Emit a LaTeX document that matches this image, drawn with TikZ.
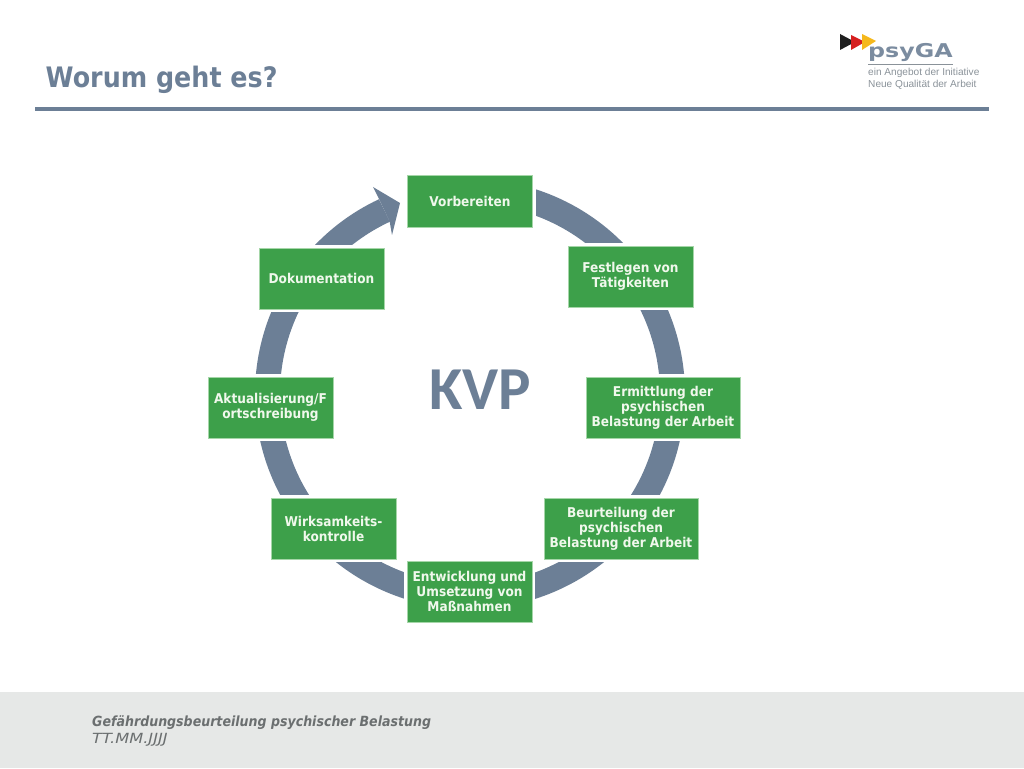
\documentclass[tikz,border=0pt]{standalone}
\usepackage{fontspec}
\usetikzlibrary{calc}
\setmainfont{DejaVu Sans}[FakeStretch=0.9]
\newfontfamily\widefont{DejaVu Sans}[FakeStretch=1.16]
\newfontfamily\logomark{DejaVu Sans}[FakeStretch=1.25]
\newfontfamily\kvpfont{Carlito}
\newfontfamily\logofont{Liberation Sans}
\definecolor{slate}{HTML}{6C7F96}
\definecolor{boxgreen}{HTML}{3DA04A}
\definecolor{boxedge}{HTML}{A5D6A8}
\definecolor{boxtext}{HTML}{F0F8EC}
\definecolor{band}{HTML}{E6E8E7}
\definecolor{foot}{HTML}{6B6F70}
\definecolor{logogrey}{HTML}{8A9299}
\definecolor{logoblack}{HTML}{1F1F1F}
\definecolor{logored}{HTML}{D62020}
\definecolor{logogold}{HTML}{F5B81C}
\tikzset{
  x=1pt,y=1pt,
  stepbox/.style={preaction={draw=white,line width=6pt},draw=boxedge,line width=0.8pt,fill=boxgreen,
    text=boxtext,font=\fontsize{13.5}{15}\selectfont\bfseries,align=center,inner sep=0pt,
    minimum width=#1,minimum height=61},
  ringseg/.style={draw=slate,line width=25pt,line cap=butt},
  plain/.style={inner sep=0pt,anchor=base west}
}
\newcommand{\ringarc}[2]{\draw[ringseg] (c#1) arc[start angle=#1,end angle=#2,radius=202.5pt];}
\begin{document}
\begin{tikzpicture}
\useasboundingbox (0,0) rectangle (1024,768);
\fill[band] (0,0) rectangle (1024,76);
\draw[slate,line width=3.2pt] (35,659) -- (989,659);
\node[plain,text=slate,font=\fontsize{28.2}{30}\selectfont\bfseries] (title) at (45.5,680) {Worum geht es?};
\node[plain,text=foot,font=\fontsize{14}{16}\selectfont\bfseries\itshape] (foot1) at (92,41.5) {Gefährdungsbeurteilung psychischer Belastung};
\node[plain,text=foot,font=\widefont\fontsize{14}{16}\selectfont\itshape] (foot2) at (92,25) {TT.MM.JJJJ};
% logo
\fill[logoblack] (840,734) -- (840,718) -- (855,726) -- cycle;
\fill[logored] (851,733) -- (851,718) -- (865,726) -- cycle;
\fill[logogold] (862,734) -- (862,718) -- (876,727) -- cycle;
\node[plain,text=slate!90,font=\logomark\fontsize{19}{20}\selectfont\bfseries] (logo) at (868,710) {psyGA};
\draw[logogrey,line width=0.8pt] (868,704) -- (953,704);
\node[plain,text=logogrey,font=\logofont\fontsize{10.1}{11}\selectfont] (logoa) at (868,692) {ein Angebot der Initiative};
\node[plain,text=logogrey,font=\logofont\fontsize{10.1}{11}\selectfont] (logob) at (868,680.5) {Neue Qualität der Arbeit};
% ring
\coordinate (hub) at (470,374);
\foreach \a in {90,37,-3,-41,-90,-136,-177,-219,-245}
  \coordinate (c\a) at ($(hub)+(\a:202.5pt)$);
\ringarc{90}{37}
\ringarc{37}{-3}
\ringarc{-3}{-41}
\ringarc{-41}{-90}
\ringarc{-90}{-136}
\ringarc{-136}{-177}
\ringarc{-177}{-219}
\ringarc{-219}{-245}
\fill[slate] (373,581) -- (400,565) -- (392,533) -- (389.7,546.2) -- (379.1,568.9) -- cycle;
% nodes
\node[stepbox=125,minimum height=52] (vor) at (470,567) {Vorbereiten};
\node[stepbox=125] (fest) at (630.5,491.5) {Festlegen von\\Tätigkeiten};
\node[stepbox=154] (erm) at (663,360.5) {Ermittlung der\\psychischen\\Belastung der Arbeit};
\node[stepbox=154] (beu) at (621,239.5) {Beurteilung der\\psychischen\\Belastung der Arbeit};
\node[stepbox=125] (ent) at (469.5,176.5) {Entwicklung und\\Umsetzung von\\Maßnahmen};
\node[stepbox=125] (wir) at (333.5,239.5) {Wirksamkeits-\\kontrolle};
\node[stepbox=125] (akt) at (270.5,360.5) {Aktualisierung/F\\ortschreibung};
\node[stepbox=125] (dok) at (321.5,489.5) {Dokumentation};
\node[text=slate,font=\kvpfont\fontsize{61}{64}\selectfont\bfseries,inner sep=0pt] (kvp) at (480,378) {KVP};
\end{tikzpicture}
\end{document}
